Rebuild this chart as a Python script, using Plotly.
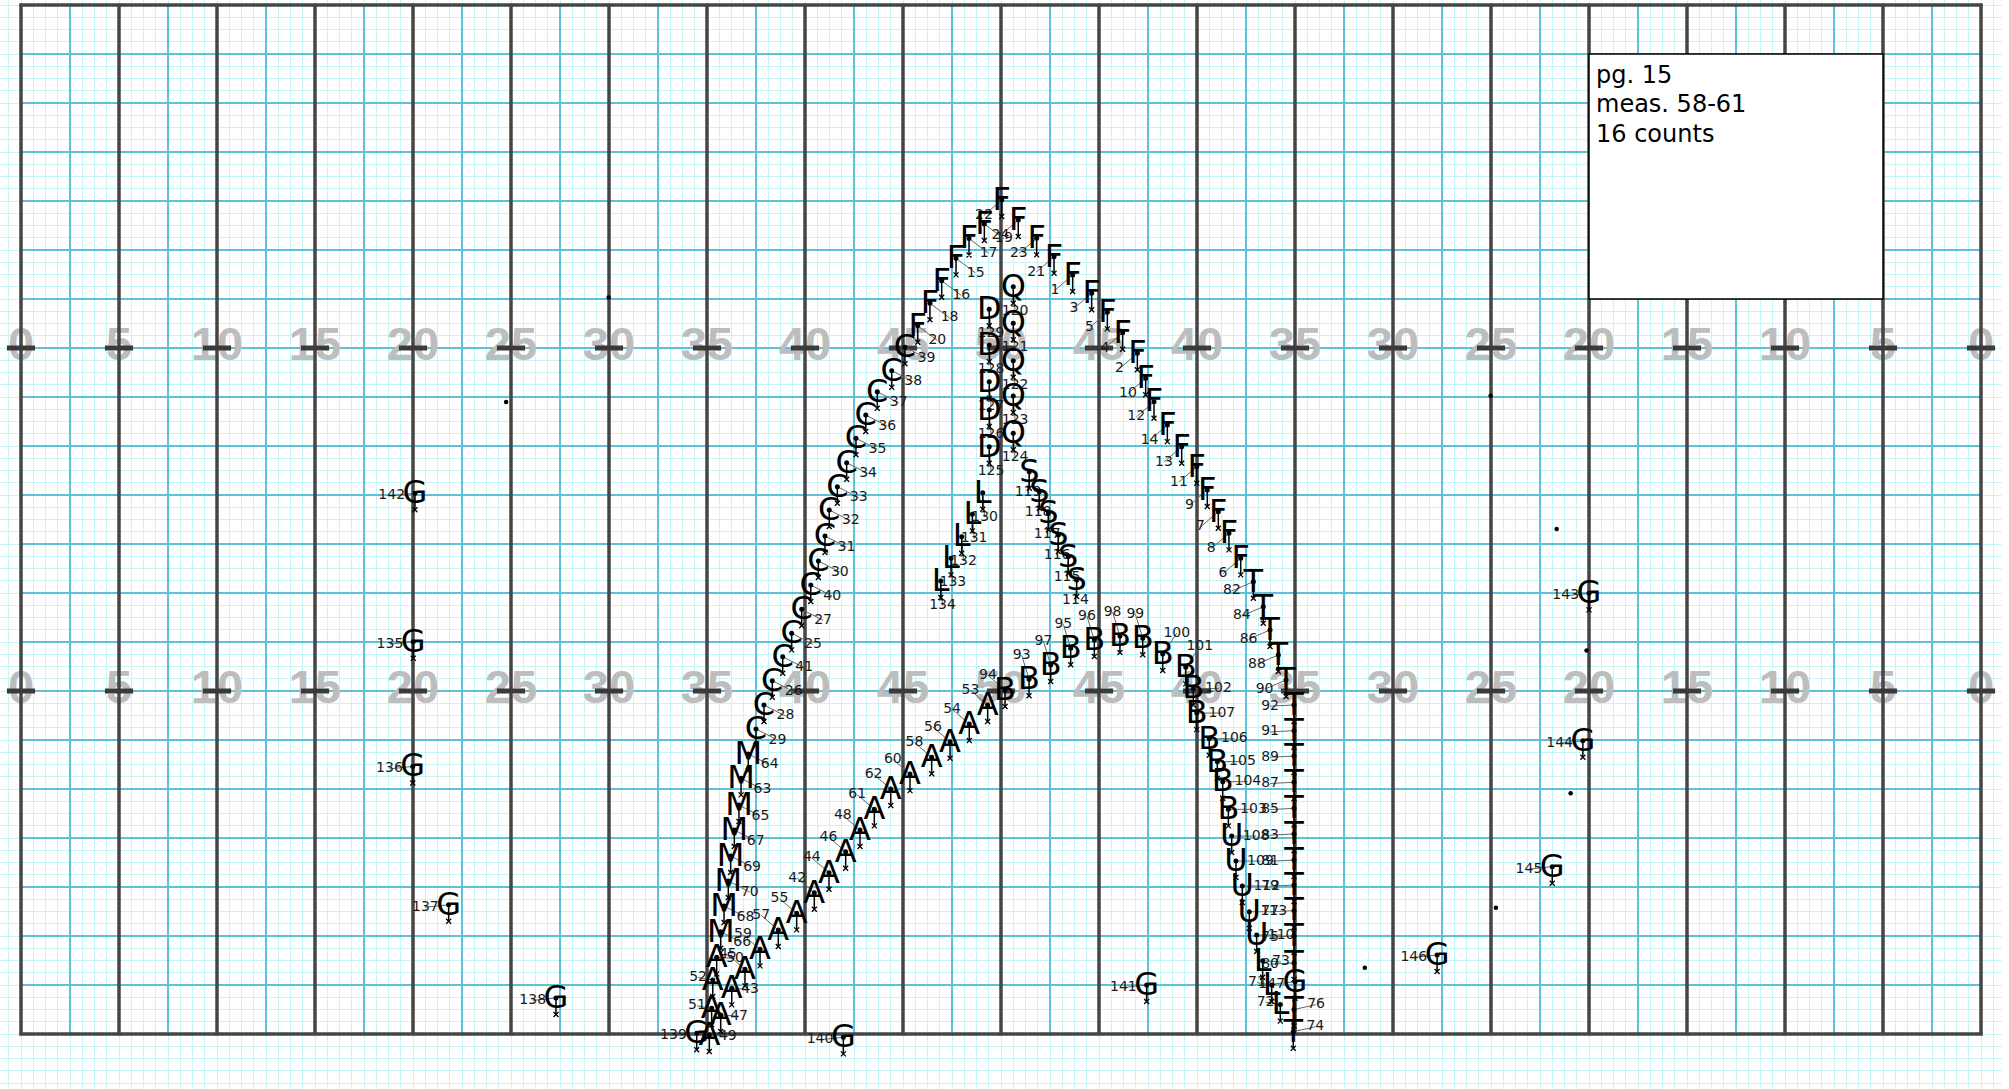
import plotly.graph_objects as go

# ---------------- data (field units: 8-to-5 steps; x from left goal line, y from top sideline) ----
symbols = (
    ["F"] * 17 + ["F"] * 7 + ["C"] * 17 + ["M"] * 8 + ["A"] * 21 + ["B"] * 15 + ["U"] * 5
    + ["T"] * 18 + ["L"] * 3 + ["D"] * 5 + ["Q"] * 5 + ["L"] * 5 + ["S"] * 6 + ["G"] * 13
)
numbers = [
    24, 23, 21, 1, 3, 5, 4, 2, 10, 12, 14, 13, 11, 9, 7, 8, 6,
    22, 19, 17, 15, 16, 18, 20,
    39, 38, 37, 36, 35, 34, 33, 32, 31, 30, 40, 27, 25, 41, 26, 28, 29,
    64, 63, 65, 67, 69, 70, 68, 66,
    53, 54, 56, 58, 60, 62, 61, 48, 46, 44, 42, 55, 57, 59, 45, 43, 50, 52, 51, 47, 49,
    94, 93, 97, 95, 96, 98, 99, 100, 101, 102, 107, 106, 105, 104, 103,
    108, 109, 112, 113, 110,
    82, 84, 86, 88, 90, 92, 91, 89, 87, 85, 83, 81, 79, 77, 75, 80, 76, 74,
    73, 71, 72,
    129, 128, 127, 126, 125,
    120, 121, 122, 123, 124,
    130, 131, 132, 133, 134,
    119, 118, 117, 116, 115, 114,
    142, 135, 136, 137, 138, 139, 140, 141, 143, 144, 145, 146, 147,
]
pos_x = [
    81.41, 82.91, 84.33, 85.85, 87.40, 88.68, 89.93, 91.13, 91.81, 92.49, 93.58, 94.75, 95.98, 96.84, 97.74, 98.61, 99.57,
    80.06, 78.64, 77.39, 76.33, 75.16, 74.20, 73.20,
    72.16, 71.08, 69.90, 68.96, 68.16, 67.40, 66.64, 65.98, 65.63, 65.09, 64.47, 63.73, 62.91, 62.18, 61.33, 60.65, 60.00,
    59.37, 58.78, 58.61, 58.23, 57.93, 57.74, 57.39, 57.12,
    78.91, 77.41, 75.84, 74.34, 72.57, 71.00, 69.66, 68.49, 67.32, 65.96, 64.76, 63.32, 61.82, 60.33, 59.10, 58.02,
    56.79, 56.47, 56.38, 57.12, 56.19,
    80.33, 82.29, 84.06, 85.69, 87.62, 89.71, 91.57, 93.20, 95.08, 95.70, 95.98, 97.00, 97.66, 98.10, 98.56,
    98.83, 99.18, 99.70, 100.27, 100.87,
    100.60, 101.41, 101.96, 102.64, 103.27, 103.92, 103.92, 103.92, 103.92, 103.92, 103.92, 103.92, 103.92, 103.92,
    103.92, 103.92, 103.92, 103.86,
    101.36, 102.10, 102.80,
    79.04, 79.04, 79.04, 79.04, 79.04,
    81.0, 81.0, 81.0, 81.0, 81.0,
    78.51, 77.66, 76.79, 75.92, 75.08,
    82.31, 83.13, 83.87, 84.68, 85.49, 86.18,
    32.16, 32.02, 31.98, 34.91, 43.67, 55.16, 67.13, 91.89, 128.0, 127.5, 125.0, 115.6, 104.0,
]
pos_y = [
    17.55, 19.05, 20.55, 22.04, 23.53, 25.09, 26.75, 28.43, 30.47, 32.38, 34.29, 36.06, 37.69, 39.59, 41.36, 43.13, 45.17,
    15.92, 17.88, 19.06, 20.68, 22.51, 24.35, 26.18,
    27.94, 29.85, 31.57, 33.47, 35.37, 37.36, 39.32, 41.22, 43.35, 45.39, 47.35, 49.33, 51.29, 53.20, 55.16, 57.14, 59.10,
    61.14, 63.13, 65.31, 67.35, 69.47, 71.51, 73.55, 75.65,
    57.14, 58.69, 60.14, 61.41, 62.78, 64.00, 65.66, 67.35, 69.12, 70.83, 72.47, 74.15, 75.51, 77.09, 78.72, 80.27,
    77.74, 79.59, 81.90, 82.45, 84.08,
    55.92, 55.04, 53.88, 52.51, 51.84, 51.51, 51.69, 52.98, 54.07, 55.80, 57.80, 59.90, 61.77, 63.40, 65.66,
    67.84, 69.88, 71.92, 74.02, 75.92,
    47.08, 49.12, 51.02, 53.06, 55.10, 57.14, 59.24, 61.31, 63.45, 65.58, 67.67, 69.80, 71.84, 73.93,
    76.00, 78.20, 82.00, 83.81,
    78.02, 80.00, 81.60,
    24.84, 27.76, 30.75, 33.06, 36.06,
    23.00, 25.98, 29.04, 31.92, 34.96,
    39.81, 41.58, 43.40, 45.17, 47.02,
    38.10, 39.73, 41.49, 43.27, 45.04, 46.94,
    39.86, 51.98, 62.16, 73.45, 81.06, 83.94, 84.27, 80.00, 48.03, 60.06, 70.34, 77.55, 79.73,
]
label_side = (
    ["Fr"] * 17 + ["Fr"] + ["Fl"] * 6 + ["C"] * 17 + ["C"] * 8
    + ["A"] * 15 + ["Ar", "Ar", "Al", "Al", "Ar", "Ar"]
    + ["A"] + ["Bt"] * 6 + ["Btr"] * 2 + ["Br"] * 6 + ["U"] * 5
    + ["Td"] * 5 + ["Tl"] * 11 + ["Tr", "Tr"] + ["Ar", "Al", "Al"]
    + ["below"] * 15 + ["S"] * 6 + ["G"] * 13
)
stray_x = [47.97, 39.6, 119.97, 125.36, 127.8, 126.5, 120.4, 109.7]
stray_y = [23.88, 32.4, 31.9, 42.78, 52.7, 64.35, 73.69, 78.6]

yard_labels = ["0", "5", "10", "15", "20", "25", "30", "35", "40", "45", "50",
               "45", "40", "35", "30", "25", "20", "15", "10", "5", "0"]
hash_rows = [28, 56]
box_lines = ["pg. 15", "meas. 58-61", "16 counts"]

# ---------------- style ----------------
LABEL_OFFSETS = {
    "Fl": (1.6, 1.2), "Fr": (-1.45, 1.25), "C": (1.75, 0.9), "A": (-1.4, -1.2),
    "Ar": (1.5, 0.1), "Al": (-1.2, -0.2), "Bt": (-0.6, -1.95), "Btr": (1.15, -1.7),
    "Br": (2.05, 0.0), "U": (2.0, 0.0), "Td": (-1.75, 0.75), "Tl": (-1.95, 0.1),
    "Tr": (1.8, -0.4), "below": (0.15, 2.0), "S": (-0.1, 1.7), "G": (-1.9, 0.2),
}
TAIL = 1.35
GLYPH_DROP = 0.15
FIELD_W, FIELD_H = 160, 84
LIGHT = "#c6f5f8"
BLUE = "#5bc2da"
DARK = "#454545"

fig = go.Figure()

def seg_trace(xs, ys, color, width):
    fig.add_trace(go.Scatter(x=xs, y=ys, mode="lines", line=dict(color=color, width=width),
                             hoverinfo="skip", showlegend=False))

# blue 4-step lines
bx, by = [], []
for yy in range(4, FIELD_H, 4):
    bx += [0, FIELD_W, None]; by += [yy, yy, None]
for xx in range(4, FIELD_W, 8):
    bx += [xx, xx, None]; by += [0, FIELD_H, None]
seg_trace(bx, by, BLUE, 2)

# yard numbers (under the yard lines)
nx, ny, nt = [], [], []
for i, t in enumerate(yard_labels):
    for hr in hash_rows:
        nx.append(i * 8); ny.append(hr); nt.append(t)
fig.add_trace(go.Scatter(x=nx, y=ny, mode="text", text=nt, textposition="middle center",
                         textfont=dict(family="Liberation Sans", size=47, color="#bdbdbd", weight="bold"),
                         hoverinfo="skip", showlegend=False))

# dark yard lines and sidelines
dx_, dy_ = [], []
for xx in range(0, FIELD_W + 1, 8):
    dx_ += [xx, xx, None]; dy_ += [-0.1, FIELD_H + 0.1, None]
for yy in (0, FIELD_H):
    dx_ += [-0.12, FIELD_W + 0.12, None]; dy_ += [yy, yy, None]
seg_trace(dx_, dy_, DARK, 3.5)

# hash ticks
hx, hy = [], []
for i in range(len(yard_labels)):
    for hr in hash_rows:
        hx += [i * 8 - 1.15, i * 8 + 1.15, None]; hy += [hr, hr, None]
seg_trace(hx, hy, "#3a3a3a", 5)

# performers
lx, ly, leadx, leady = [], [], [], []
for x, y, s in zip(pos_x, pos_y, label_side):
    ox, oy = LABEL_OFFSETS[s]
    lx.append(x + ox); ly.append(y + oy)
    leadx += [x, x + ox, None]; leady += [y, y + oy, None]
seg_trace(leadx, leady, "#666666", 1)
fig.add_trace(go.Scatter(x=lx, y=ly, mode="text", text=[str(n) for n in numbers],
                         textposition="middle center",
                         textfont=dict(family="DejaVu Sans", size=14, color="#1a1a1a"),
                         hoverinfo="skip", showlegend=False))
fig.add_trace(go.Scatter(x=pos_x, y=[y + GLYPH_DROP for y in pos_y], mode="text", text=symbols,
                         textposition="middle center",
                         textfont=dict(family="DejaVu Sans", size=32, color="black"),
                         hoverinfo="skip", showlegend=False))
tx, ty = [], []
for x, y in zip(pos_x, pos_y):
    tx += [x, x, None]; ty += [y, y + TAIL, None]
seg_trace(tx, ty, "black", 1.5)
fig.add_trace(go.Scatter(x=pos_x, y=[y + TAIL for y in pos_y], mode="markers",
                         marker=dict(symbol="x-thin", size=5, line=dict(width=1.3, color="black")),
                         hoverinfo="skip", showlegend=False))
fig.add_trace(go.Scatter(x=pos_x, y=pos_y, mode="markers",
                         marker=dict(symbol="circle", size=5, color="black"),
                         hoverinfo="skip", showlegend=False))
fig.add_trace(go.Scatter(x=stray_x, y=stray_y, mode="markers",
                         marker=dict(symbol="circle", size=4.5, color="black"),
                         hoverinfo="skip", showlegend=False))

# info box
fig.add_shape(type="rect", x0=128, x1=152, y0=4, y1=24, xref="x", yref="y",
              fillcolor="white", line=dict(color="black", width=1.5), layer="above")
for k, line in enumerate(box_lines):
    fig.add_annotation(x=128.4, y=5.71 + 2.4 * k, xref="x", yref="y", xanchor="left", yanchor="middle",
                       align="left", showarrow=False, text=line,
                       font=dict(family="DejaVu Sans", size=24, color="black"))

fig.update_layout(
    width=2009, height=1089,
    margin=dict(l=0, r=7, t=0, b=0),
    paper_bgcolor="white", plot_bgcolor="white",
    showlegend=False,
    xaxis=dict(range=[-21 / 12.25, 1981 / 12.25], showgrid=True, dtick=1, tick0=0,
               gridcolor=LIGHT, gridwidth=1, zeroline=False, showticklabels=False,
               ticks="", showline=False, fixedrange=True),
    yaxis=dict(range=[1084 / 12.25, -5 / 12.25], showgrid=True, dtick=1, tick0=0,
               gridcolor=LIGHT, gridwidth=1, zeroline=False, showticklabels=False,
               ticks="", showline=False, fixedrange=True),
)

fig.write_html("out.html", config={"displayModeBar": False},
               post_script="document.body.style.margin='0px';")
